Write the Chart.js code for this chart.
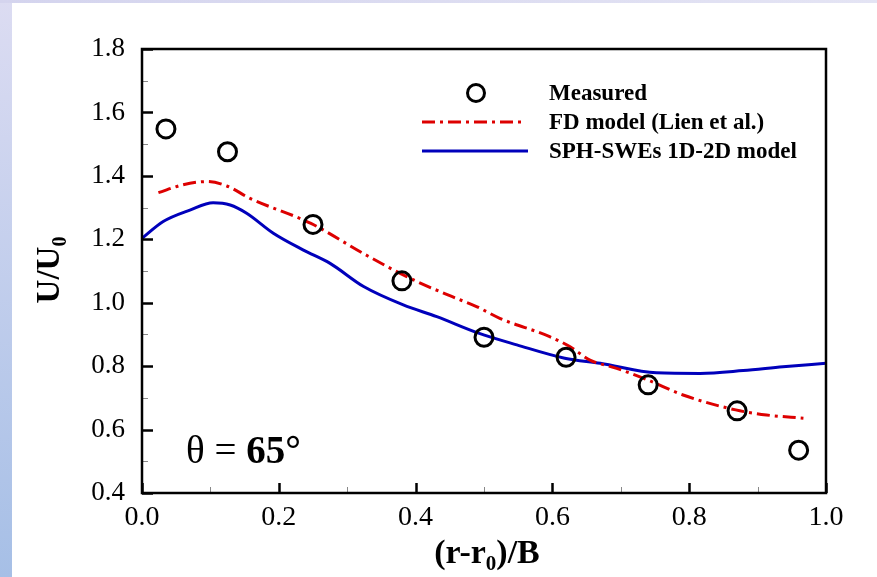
<!DOCTYPE html>
<html><head><meta charset="utf-8">
<script src="https://cdn.jsdelivr.net/npm/chart.js@4.4.1/dist/chart.umd.min.js"></script>
<style>
html,body{margin:0;padding:0;background:#fff;}
#wrap{position:relative;width:877px;height:577px;overflow:hidden;background:#fff;}
#left{position:absolute;left:0;top:0;width:12px;height:577px;background:linear-gradient(#dcdcf2,#a6bfe6);}
#top{position:absolute;left:0;top:0;width:877px;height:3px;background:linear-gradient(90deg,#d4d4ee,#e4e4f4);}
canvas{position:absolute;left:0;top:0;}
</style></head><body>
<div id="wrap"><div id="left"></div><div id="top"></div><canvas id="c" width="877" height="577"></canvas></div>
<script>
// ---- data ----
const measuredX = [0.035, 0.125, 0.25, 0.38, 0.50, 0.62, 0.74, 0.87, 0.96];
const measuredY = [1.548, 1.476, 1.247, 1.069, 0.891, 0.828, 0.741, 0.659, 0.535];

const fdX = [0.024, 0.06, 0.095, 0.124, 0.158, 0.247, 0.323, 0.387, 0.45, 0.489, 0.523, 0.596, 0.626, 0.655, 0.694, 0.740, 0.791, 0.868, 0.913, 0.967];
const fdY = [1.347, 1.372, 1.382, 1.368, 1.329, 1.250, 1.156, 1.082, 1.022, 0.988, 0.951, 0.893, 0.861, 0.819, 0.793, 0.756, 0.709, 0.662, 0.646, 0.636];

const sphX = [0, 0.031, 0.070, 0.104, 0.129, 0.153, 0.192, 0.236, 0.275, 0.324, 0.382, 0.431, 0.492, 0.548, 0.618, 0.670, 0.752, 0.816, 0.879, 0.937, 1.0];
const sphY = [1.203, 1.256, 1.292, 1.315, 1.308, 1.282, 1.219, 1.166, 1.124, 1.051, 0.993, 0.956, 0.904, 0.867, 0.825, 0.809, 0.779, 0.777, 0.786, 0.798, 0.809];

const seriesNames = ['Measured', 'FD model (Lien et al.)', 'SPH-SWEs 1D-2D model'];
const xTickValues = [0.0, 0.2, 0.4, 0.6, 0.8, 1.0];
const yTickValues = [0.4, 0.6, 0.8, 1.0, 1.2, 1.4, 1.6, 1.8];
const angleLabel = '65°';

const RED = '#dd0000', BLUE = '#0000bb';
const SERIF = '"Liberation Serif","Times New Roman",serif';
const DASH = [13, 5, 3, 5];
const pts = (xs, ys) => xs.map((x, i) => ({x, y: ys[i]}));

const decor = {
  id: 'decor',
  afterDraw(chart) {
    const {ctx, chartArea: a, scales: {x, y}} = chart;
    ctx.save();
    const drawXTicks = (vals, len, col, w) => {
      ctx.strokeStyle = col; ctx.lineWidth = w;
      vals.forEach(v => { const px = Math.round(x.getPixelForValue(v)) + 0.5;
        ctx.beginPath(); ctx.moveTo(px, a.bottom); ctx.lineTo(px, a.bottom - len); ctx.stroke(); });
    };
    const drawYTicks = (vals, len, col, w) => {
      ctx.strokeStyle = col; ctx.lineWidth = w;
      vals.forEach(v => { const py = Math.round(y.getPixelForValue(v)) + 0.5;
        ctx.beginPath(); ctx.moveTo(a.left, py); ctx.lineTo(a.left + len, py); ctx.stroke(); });
    };
    const minorX = xTickValues.slice(0, -1).map((v, i) => (v + xTickValues[i + 1]) / 2);
    const minorY = yTickValues.slice(0, -1).map((v, i) => (v + yTickValues[i + 1]) / 2);
    drawXTicks(minorX, 6, '#888', 1);
    drawYTicks(minorY, 6, '#888', 1);
    drawXTicks(xTickValues, 10, '#000', 2.5);
    drawYTicks(yTickValues, 11, '#000', 2.5);
    ctx.strokeStyle = '#000'; ctx.lineWidth = 2.5;
    ctx.strokeRect(a.left, a.top, a.right - a.left, a.bottom - a.top);

    // legend
    ctx.fillStyle = '#000';
    ctx.font = 'bold 23px ' + SERIF;
    ctx.textBaseline = 'middle'; ctx.textAlign = 'left';
    const lx0 = 422, lx1 = 526, tx = 549, rows = [93, 122, 151];
    ctx.lineWidth = 3; ctx.strokeStyle = '#000';
    ctx.beginPath(); ctx.arc((lx0 + lx1) / 2 + 2, rows[0], 8.5, 0, Math.PI * 2); ctx.stroke();
    ctx.strokeStyle = RED; ctx.setLineDash(DASH);
    ctx.beginPath(); ctx.moveTo(lx0, rows[1]); ctx.lineTo(lx1, rows[1]); ctx.stroke();
    ctx.setLineDash([]); ctx.strokeStyle = BLUE;
    ctx.beginPath(); ctx.moveTo(lx0, rows[2]); ctx.lineTo(lx1 + 2, rows[2]); ctx.stroke();
    seriesNames.forEach((n, i) => ctx.fillText(n, tx, rows[i] + 1));

    // theta label
    ctx.textBaseline = 'alphabetic';
    ctx.font = '39px ' + SERIF;
    let cx = 186; const by = 463;
    ctx.fillText('θ = ', cx, by);
    cx += ctx.measureText('θ = ').width;
    ctx.font = 'bold 39px ' + SERIF;
    ctx.fillText(angleLabel, cx, by);

    // x title
    const parts = [['(r-r', 34, 0], ['0', 21, 7], [')/B', 34, 0]];
    let tw = 0; parts.forEach(p => { ctx.font = 'bold ' + p[1] + 'px ' + SERIF; tw += ctx.measureText(p[0]).width; });
    let px = 487 - tw / 2; const pby = 563;
    parts.forEach(p => { ctx.font = 'bold ' + p[1] + 'px ' + SERIF; ctx.fillText(p[0], px, pby + p[2]); px += ctx.measureText(p[0]).width; });

    // y title (rotated)
    ctx.translate(59, 270);
    ctx.rotate(-Math.PI / 2);
    const yparts = [['U/U', 33, 0], ['0', 20, 7]];
    tw = 0; yparts.forEach(p => { ctx.font = 'bold ' + p[1] + 'px ' + SERIF; tw += ctx.measureText(p[0]).width; });
    px = -tw / 2;
    yparts.forEach(p => { ctx.font = 'bold ' + p[1] + 'px ' + SERIF; ctx.fillText(p[0], px, p[2]); px += ctx.measureText(p[0]).width; });
    ctx.restore();
  }
};

const zeroPad = s => { s.paddingTop = 0; s.paddingBottom = 0; s.paddingLeft = 0; s.paddingRight = 0; };

new Chart(document.getElementById('c'), {
  type: 'scatter',
  data: {
    datasets: [
      {label: seriesNames[0], data: pts(measuredX, measuredY), showLine: false,
       pointStyle: 'circle', pointRadius: 9, pointBorderWidth: 3, pointBorderColor: '#000', pointBackgroundColor: 'rgba(0,0,0,0)'},
      {label: seriesNames[1], data: pts(fdX, fdY), showLine: true, borderColor: RED, borderWidth: 3,
       borderDash: DASH, pointRadius: 0, cubicInterpolationMode: 'monotone'},
      {label: seriesNames[2], data: pts(sphX, sphY), showLine: true, borderColor: BLUE, borderWidth: 3,
       pointRadius: 0, cubicInterpolationMode: 'monotone'}
    ]
  },
  options: {
    responsive: false, animation: false, devicePixelRatio: 1,
    layout: {padding: {left: 0, top: 49, right: 51, bottom: 0}},
    plugins: {legend: {display: false}, tooltip: {enabled: false}},
    scales: {
      x: {type: 'linear', min: 0, max: 1,
          afterBuildTicks: s => { s.ticks = xTickValues.map(v => ({value: v})); },
          ticks: {callback: v => Number(v).toFixed(1), font: {family: SERIF, size: 28}, color: '#000', padding: 8, maxRotation: 0},
          grid: {display: false, drawTicks: false}, border: {display: false},
          afterFit: s => { s.height = 84; zeroPad(s); }},
      y: {type: 'linear', min: 0.4, max: 1.8,
          afterBuildTicks: s => { s.ticks = yTickValues.map(v => ({value: v})); },
          ticks: {callback: v => Number(v).toFixed(1), font: {family: SERIF, size: 27}, color: '#000', padding: 17},
          grid: {display: false, drawTicks: false}, border: {display: false},
          afterFit: s => { s.width = 142; zeroPad(s); }}
    }
  },
  plugins: [decor]
});
</script>
</body></html>
